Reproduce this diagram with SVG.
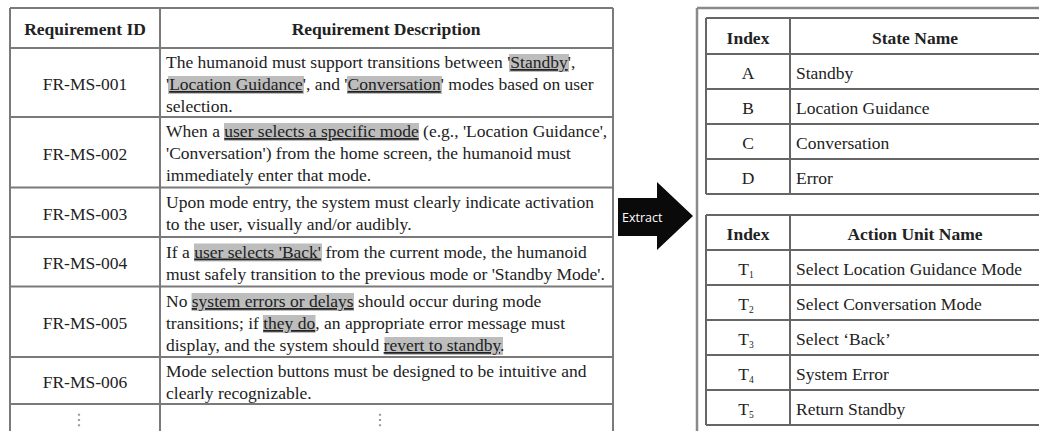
<svg xmlns="http://www.w3.org/2000/svg" width="1039" height="431" viewBox="0 0 1039 431">
<style>
.t{font-family:"Liberation Serif","Times New Roman",serif;font-size:17.5px;fill:#222}
.b{font-weight:bold}
.c{text-anchor:middle}
.ln{stroke:#7a7a7a;stroke-width:2;fill:none}
.rl{stroke:#666;stroke-width:2;fill:none}
.hl{fill:#bdbdbd}
.u{text-decoration:underline}
.dots{font-family:"DejaVu Sans",sans-serif;font-size:16px;fill:#888;text-anchor:middle}
.ex{font-family:"Open Sans","Liberation Sans",sans-serif;font-size:12.5px;fill:#fff}
.sub{font-size:9.5px}
</style>
<rect width="1039" height="431" fill="#fff"/>

<g id="requirements-table">
  <g id="req-grid">
    <path class="ln" d="M10 8V431M160 8V431M613 8V431"/>
    <path class="ln" d="M10 8H613M10 48H613M10 117H613M10 187.5H613M10 237H613M10 286.5H613M10 357H613M10 404H613"/>
  </g>
  <g id="req-header">
    <text class="t b c" x="85" y="35">Requirement ID</text>
    <text class="t b c" x="386" y="35">Requirement Description</text>
  </g>
  <g id="req-highlights">
    <rect class="hl" x="509" y="54" width="60" height="18"/>
    <rect class="hl" x="168" y="76" width="136" height="18"/>
    <rect class="hl" x="347" y="76" width="95" height="18"/>
    <rect class="hl" x="224" y="123" width="195" height="18"/>
    <rect class="hl" x="194" y="243.5" width="128" height="18"/>
    <rect class="hl" x="191.5" y="293" width="162.5" height="18"/>
    <rect class="hl" x="263" y="315" width="52.5" height="18"/>
    <rect class="hl" x="384.5" y="337" width="118.5" height="18"/>
  </g>
  <g id="fr-ms-001">
    <text class="t c" x="85" y="90">FR-MS-001</text>
    <text class="t" x="166" y="68">The humanoid must support transitions between '<tspan class="u">Standby</tspan>',</text>
    <text class="t" x="166" y="90">'<tspan class="u">Location Guidance</tspan>', and '<tspan class="u">Conversation</tspan>' modes based on user</text>
    <text class="t" x="166" y="112">selection.</text>
  </g>
  <g id="fr-ms-002">
    <text class="t c" x="85" y="159.5">FR-MS-002</text>
    <text class="t" x="166" y="137">When a <tspan class="u">user selects a specific mode</tspan> (e.g., 'Location Guidance',</text>
    <text class="t" x="166" y="159">'Conversation') from the home screen, the humanoid must</text>
    <text class="t" x="166" y="181">immediately enter that mode.</text>
  </g>
  <g id="fr-ms-003">
    <text class="t c" x="85" y="219.5">FR-MS-003</text>
    <text class="t" x="166" y="208">Upon mode entry, the system must clearly indicate activation</text>
    <text class="t" x="166" y="230">to the user, visually and/or audibly.</text>
  </g>
  <g id="fr-ms-004">
    <text class="t c" x="85" y="268.5">FR-MS-004</text>
    <text class="t" x="166" y="257.5">If a <tspan class="u">user selects 'Back'</tspan> from the current mode, the humanoid</text>
    <text class="t" x="166" y="279.5">must safely transition to the previous mode or 'Standby Mode'.</text>
  </g>
  <g id="fr-ms-005">
    <text class="t c" x="85" y="329">FR-MS-005</text>
    <text class="t" x="166" y="307">No <tspan class="u">system errors or delays</tspan> should occur during mode</text>
    <text class="t" x="166" y="329">transitions; if <tspan class="u">they do</tspan>, an appropriate error message must</text>
    <text class="t" x="166" y="351">display, and the system should <tspan class="u">revert to standby</tspan>.</text>
  </g>
  <g id="fr-ms-006">
    <text class="t c" x="85" y="387.5">FR-MS-006</text>
    <text class="t" x="166" y="376.5">Mode selection buttons must be designed to be intuitive and</text>
    <text class="t" x="166" y="398.5">clearly recognizable.</text>
  </g>
  <g id="req-ellipsis">
    <text class="dots" x="79" y="425">⋮</text>
    <text class="dots" x="380" y="425">⋮</text>
  </g>
</g>

<g id="connectors">
  <g id="extract-arrow">
    <polygon points="618,198 657,198 657,182 693,216 657,250 657,236 618,236" fill="#0a0a0a"/>
    <text class="ex" x="622" y="221.5">Extract</text>
  </g>
</g>

<g id="extracted-panel">
  <path d="M697 8V431M697 8H1039" fill="none" stroke="#8a8a8a" stroke-width="2.5"/>
  <g id="state-table">
    <path class="rl" d="M706 18V194M790 18V194M706 18H1045M706 54H1045M706 89H1045M706 124H1045M706 159H1045M706 194H1045"/>
    <text class="t b c" x="748" y="43.5">Index</text>
    <text class="t b c" x="915" y="43.5">State Name</text>
    <text class="t c" x="748" y="78.5">A</text>
    <text class="t" x="796" y="78.5">Standby</text>
    <text class="t c" x="748" y="113.5">B</text>
    <text class="t" x="796" y="113.5">Location Guidance</text>
    <text class="t c" x="748" y="148.5">C</text>
    <text class="t" x="796" y="148.5">Conversation</text>
    <text class="t c" x="748" y="184">D</text>
    <text class="t" x="796" y="184">Error</text>
  </g>
  <g id="action-table">
    <path class="rl" d="M706 215V425M790 215V425M706 215H1045M706 250H1045M706 285H1045M706 320H1045M706 355H1045M706 390H1045M706 425H1045"/>
    <text class="t b c" x="748" y="240">Index</text>
    <text class="t b c" x="915" y="240">Action Unit Name</text>
    <text class="t c" x="746" y="275">T<tspan class="sub" dy="3">1</tspan></text>
    <text class="t" x="796" y="275">Select Location Guidance Mode</text>
    <text class="t c" x="746" y="310">T<tspan class="sub" dy="3">2</tspan></text>
    <text class="t" x="796" y="310">Select Conversation Mode</text>
    <text class="t c" x="746" y="345">T<tspan class="sub" dy="3">3</tspan></text>
    <text class="t" x="796" y="345">Select ‘Back’</text>
    <text class="t c" x="746" y="380">T<tspan class="sub" dy="3">4</tspan></text>
    <text class="t" x="796" y="380">System Error</text>
    <text class="t c" x="746" y="415">T<tspan class="sub" dy="3">5</tspan></text>
    <text class="t" x="796" y="415">Return Standby</text>
  </g>
</g>
</svg>
